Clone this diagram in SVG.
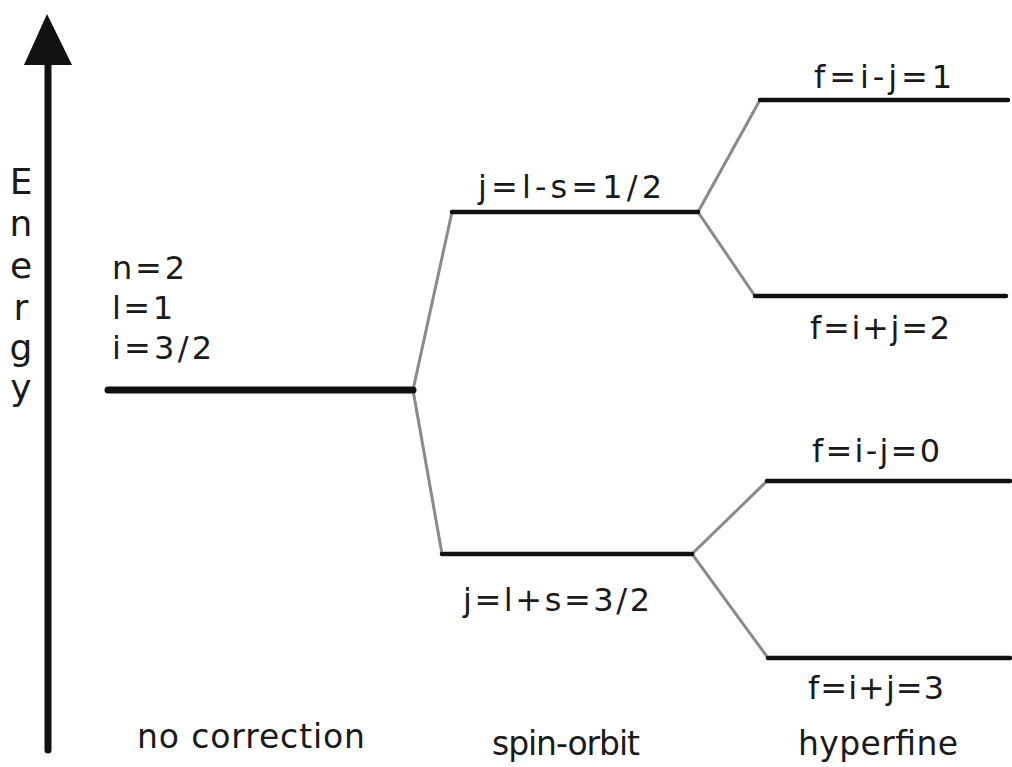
<svg xmlns="http://www.w3.org/2000/svg" width="1012" height="767" viewBox="0 0 1012 767">
  <style>
    text { font-family: "DejaVu Sans", Verdana, sans-serif; fill: #1a1a1a; }
    .lbl { font-size: 32px; }
    .cap { font-size: 33px; }
    .axis { font-size: 36px; }
    .level { stroke: #111; stroke-width: 4.5; stroke-linecap: round; fill: none; }
    .base { stroke: #111; stroke-width: 7; stroke-linecap: round; fill: none; }
    .split { stroke: #8a8a8a; stroke-width: 3; fill: none; }
  </style>

  <!-- energy axis -->
  <g id="axis">
    <line x1="48" y1="60" x2="48" y2="750" stroke="#111" stroke-width="7" stroke-linecap="round"/>
    <polygon points="47,14 24,65 72,65" fill="#111"/>
    <text class="axis" x="21" y="194" text-anchor="middle">E</text>
    <text class="axis" x="21" y="236" text-anchor="middle">n</text>
    <text class="axis" x="21" y="278" text-anchor="middle">e</text>
    <text class="axis" x="21" y="320" text-anchor="middle">r</text>
    <text class="axis" x="21" y="360" text-anchor="middle">g</text>
    <text class="axis" x="21" y="400" text-anchor="middle">y</text>
  </g>

  <!-- splitting connectors -->
  <g id="connectors">
    <polyline class="split" points="452,212 413,390 442,554"/>
    <polyline class="split" points="760,100 698,212 755,296"/>
    <polyline class="split" points="767,481 692,554 768,658"/>
  </g>

  <!-- unperturbed level -->
  <g id="level-n2">
    <line class="base" x1="108" y1="390" x2="413" y2="390"/>
    <text class="lbl" x="112" y="279" textLength="73" lengthAdjust="spacing">n=2</text>
    <text class="lbl" x="112" y="319" textLength="61" lengthAdjust="spacing">l=1</text>
    <text class="lbl" x="112" y="359" textLength="100" lengthAdjust="spacing">i=3/2</text>
  </g>

  <!-- spin-orbit levels -->
  <g id="level-j12">
    <line class="level" x1="452" y1="212" x2="698" y2="212"/>
    <text class="lbl" x="478" y="198" textLength="184" lengthAdjust="spacing">j=l-s=1/2</text>
  </g>
  <g id="level-j32">
    <line class="level" x1="442" y1="554" x2="692" y2="554"/>
    <text class="lbl" x="463" y="611" textLength="187" lengthAdjust="spacing">j=l+s=3/2</text>
  </g>

  <!-- hyperfine levels -->
  <g id="level-f1">
    <line class="level" x1="760" y1="100" x2="1008" y2="100"/>
    <text class="lbl" x="814" y="88" textLength="138" lengthAdjust="spacing">f=i-j=1</text>
  </g>
  <g id="level-f2">
    <line class="level" x1="755" y1="296" x2="1006" y2="296"/>
    <text class="lbl" x="810" y="339" textLength="140" lengthAdjust="spacing">f=i+j=2</text>
  </g>
  <g id="level-f0">
    <line class="level" x1="767" y1="481" x2="1010" y2="481"/>
    <text class="lbl" x="812" y="462" textLength="128" lengthAdjust="spacing">f=i-j=0</text>
  </g>
  <g id="level-f3">
    <line class="level" x1="768" y1="658" x2="1010" y2="658"/>
    <text class="lbl" x="808" y="699" textLength="136" lengthAdjust="spacing">f=i+j=3</text>
  </g>

  <!-- column captions -->
  <g id="captions">
    <text class="cap" x="137" y="748" textLength="228" lengthAdjust="spacing">no correction</text>
    <text class="cap" x="492" y="755" textLength="148" lengthAdjust="spacing">spin-orbit</text>
    <text class="cap" x="798" y="755" textLength="160" lengthAdjust="spacing">hyperfine</text>
  </g>
</svg>
